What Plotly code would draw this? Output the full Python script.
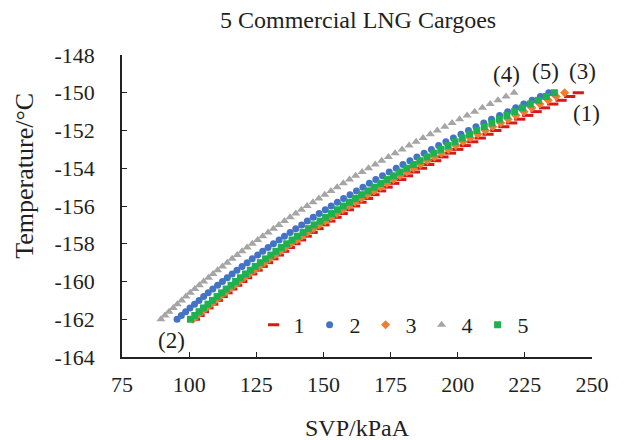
import plotly.graph_objects as go

# Temperature (°C) of each measured point, shared by all cargoes
temperature = [-162.0, -161.8, -161.6, -161.4, -161.2, -161.0, -160.8, -160.6, -160.4, -160.2,
               -160.0, -159.8, -159.6, -159.4, -159.2, -159.0, -158.8, -158.6, -158.4, -158.2,
               -158.0, -157.8, -157.6, -157.4, -157.2, -157.0, -156.8, -156.6, -156.4, -156.2,
               -156.0, -155.8, -155.6, -155.4, -155.2, -155.0, -154.8, -154.6, -154.4, -154.2,
               -154.0, -153.8, -153.6, -153.4, -153.2, -153.0, -152.8, -152.6, -152.4, -152.2,
               -152.0, -151.8, -151.6, -151.4, -151.2, -151.0, -150.8, -150.6, -150.4, -150.2,
               -150.0]

# SVP (kPaA) per cargo
svp_1 = [102.0, 103.7, 105.3, 107.0, 108.8, 110.5, 112.3, 114.1, 115.9, 117.7,
         119.6, 121.4, 123.3, 125.3, 127.2, 129.2, 131.2, 133.2, 135.2, 137.3,
         139.4, 141.5, 143.6, 145.8, 148.0, 150.2, 152.4, 154.7, 157.0, 159.3,
         161.6, 164.0, 166.4, 168.8, 171.3, 173.7, 176.2, 178.8, 181.3, 183.9,
         186.5, 189.2, 191.8, 194.5, 197.3, 200.0, 202.8, 205.6, 208.4, 211.3,
         214.2, 217.2, 220.1, 223.1, 226.1, 229.2, 232.3, 235.4, 238.5, 241.7,
         244.9]
svp_2 = [95.5, 97.1, 98.7, 100.3, 102.0, 103.7, 105.4, 107.1, 108.8, 110.6,
         112.4, 114.2, 116.0, 117.8, 119.7, 121.6, 123.5, 125.5, 127.4, 129.4,
         131.4, 133.5, 135.5, 137.6, 139.7, 141.9, 144.0, 146.2, 148.4, 150.7,
         152.9, 155.2, 157.5, 159.9, 162.3, 164.7, 167.1, 169.5, 172.0, 174.5,
         177.1, 179.6, 182.2, 184.8, 187.5, 190.2, 192.9, 195.6, 198.4, 201.2,
         204.0, 206.8, 209.7, 212.6, 215.6, 218.6, 221.6, 224.6, 227.7, 230.8,
         233.9]
svp_3 = [101.5, 103.1, 104.8, 106.4, 108.1, 109.8, 111.5, 113.3, 115.0, 116.8,
         118.6, 120.5, 122.3, 124.2, 126.1, 128.0, 129.9, 131.9, 133.9, 135.9,
         137.9, 140.0, 142.0, 144.1, 146.3, 148.4, 150.6, 152.8, 155.0, 157.2,
         159.5, 161.8, 164.1, 166.4, 168.8, 171.2, 173.6, 176.1, 178.5, 181.0,
         183.6, 186.1, 188.7, 191.3, 193.9, 196.6, 199.3, 202.0, 204.7, 207.5,
         210.3, 213.1, 216.0, 218.8, 221.7, 224.7, 227.6, 230.6, 233.7, 236.7,
         239.8]
svp_4 = [89.5, 91.0, 92.5, 94.1, 95.6, 97.2, 98.8, 100.4, 102.1, 103.8,
         105.4, 107.2, 108.9, 110.6, 112.4, 114.2, 116.0, 117.9, 119.7, 121.6,
         123.5, 125.5, 127.4, 129.4, 131.4, 133.4, 135.5, 137.6, 139.7, 141.8,
         143.9, 146.1, 148.3, 150.5, 152.8, 155.1, 157.4, 159.7, 162.0, 164.4,
         166.8, 169.3, 171.7, 174.2, 176.7, 179.3, 181.9, 184.5, 187.1, 189.8,
         192.4, 195.2, 197.9, 200.7, 203.5, 206.3, 209.2, 212.1, 215.0, 218.0,
         221.0]
svp_5 = [100.5, 102.1, 103.7, 105.3, 107.0, 108.7, 110.4, 112.1, 113.8, 115.6,
         117.3, 119.1, 121.0, 122.8, 124.6, 126.5, 128.4, 130.4, 132.3, 134.3,
         136.3, 138.3, 140.3, 142.4, 144.4, 146.5, 148.7, 150.8, 153.0, 155.2,
         157.4, 159.7, 161.9, 164.2, 166.6, 168.9, 171.3, 173.7, 176.1, 178.5,
         181.0, 183.5, 186.0, 188.6, 191.1, 193.7, 196.4, 199.0, 201.7, 204.4,
         207.1, 209.9, 212.7, 215.5, 218.3, 221.2, 224.1, 227.0, 230.0, 233.0,
         236.0]

series_names = ["1", "2", "3", "4", "5"]
x_ticks = [75, 100, 125, 150, 175, 200, 225, 250]
y_ticks = [-164, -162, -160, -158, -156, -154, -152, -150, -148]

FONT = "Liberation Serif, Times New Roman, serif"
TXT = "#231F20"

styles = [
    dict(symbol="line-ew", size=8, color="#D7191C", line=dict(color="#D7191C", width=3)),
    dict(symbol="circle", size=7, color="#4472C4", line=dict(width=0)),
    dict(symbol="diamond", size=7, color="#ED7D31", line=dict(width=0)),
    dict(symbol="triangle-up", size=8, color="#A5A5A5", line=dict(width=0)),
    dict(symbol="square", size=7, color="#1FB050", line=dict(width=0)),
]

fig = go.Figure()
for name, svp, st in zip(series_names, [svp_1, svp_2, svp_3, svp_4, svp_5], styles):
    fig.add_trace(go.Scatter(x=svp, y=temperature, mode="markers", name=name,
                             marker=st, cliponaxis=False))

fig.update_layout(
    width=633, height=440,
    margin=dict(l=122, r=41, t=55, b=83),
    paper_bgcolor="white", plot_bgcolor="white",
    font=dict(family=FONT, color=TXT, size=22),
    showlegend=True,
    legend=dict(orientation="h", x=0.28, y=0.106, xanchor="left", yanchor="middle",
                bgcolor="rgba(0,0,0,0)", font=dict(size=22, family=FONT, color=TXT),
                itemwidth=30, tracegroupgap=0),
    xaxis=dict(range=[75, 250], tickvals=x_ticks, ticktext=[str(v) for v in x_ticks],
               showgrid=False, zeroline=False, showline=True, linecolor="#222",
               linewidth=1.6, ticks="inside", ticklen=5, tickwidth=1.2, tickcolor="#222",
               tickfont=dict(size=22, family=FONT, color=TXT), ticklabelstandoff=7),
    yaxis=dict(range=[-164, -148], tickvals=y_ticks, ticktext=[str(v) for v in y_ticks],
               showgrid=False, zeroline=False, showline=True, linecolor="#222",
               linewidth=1.6, ticks="inside", ticklen=5, tickwidth=1.2, tickcolor="#222",
               tickfont=dict(size=22, family=FONT, color=TXT), ticklabelstandoff=21),
)

annots = [
    dict(text="5 Commercial LNG Cargoes", xref="paper", yref="paper",
         x=0.503, y=1, yshift=35, font=dict(size=24)),
    dict(text="SVP/kPaA", xref="paper", yref="paper", x=0.5, y=0, yshift=-71,
         font=dict(size=24)),
    dict(text="Temperature/°C", xref="paper", yref="paper", x=0, xshift=-97,
         y=0.6, textangle=-90, font=dict(size=26)),
    dict(text="(4)", x=218.3, y=-149.05, font=dict(size=23)),
    dict(text="(5)", x=232.8, y=-148.9, font=dict(size=23)),
    dict(text="(3)", x=246.6, y=-148.9, font=dict(size=23)),
    dict(text="(1)", x=248.0, y=-151.1, font=dict(size=23)),
    dict(text="(2)", x=93.6, y=-163.1, font=dict(size=23)),
]
for a in annots:
    fig.add_annotation(showarrow=False, xanchor="center", yanchor="middle", **a)

fig.write_html("out.html")
